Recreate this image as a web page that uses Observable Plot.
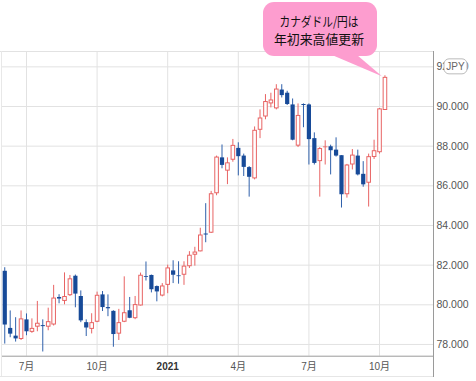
<!DOCTYPE html>
<html><head><meta charset="utf-8">
<script src="https://cdn.jsdelivr.net/npm/d3@7"></script>
<script src="https://cdn.jsdelivr.net/npm/@observablehq/plot@0.6"></script>
<style>
html,body{margin:0;padding:0;background:#fff;}
#chart{position:relative;width:476px;height:381px;overflow:hidden;}
svg{display:block}
</style></head><body><div id="chart"></div>
<script>
// Weekly CAD/JPY candles (week starting Monday)
const weeks = [
"2020-06-08","2020-06-15","2020-06-22","2020-06-29","2020-07-06","2020-07-13","2020-07-20","2020-07-27",
"2020-08-03","2020-08-10","2020-08-17","2020-08-24","2020-08-31","2020-09-07","2020-09-14","2020-09-21",
"2020-09-28","2020-10-05","2020-10-12","2020-10-19","2020-10-26","2020-11-02","2020-11-09","2020-11-16",
"2020-11-23","2020-11-30","2020-12-07","2020-12-14","2020-12-21","2020-12-28","2021-01-04","2021-01-11",
"2021-01-18","2021-01-25","2021-02-01","2021-02-08","2021-02-15","2021-02-22","2021-03-01","2021-03-08",
"2021-03-15","2021-03-22","2021-03-29","2021-04-05","2021-04-12","2021-04-19","2021-04-26","2021-05-03",
"2021-05-10","2021-05-17","2021-05-24","2021-05-31","2021-06-07","2021-06-14","2021-06-21","2021-06-28",
"2021-07-05","2021-07-12","2021-07-19","2021-07-26","2021-08-02","2021-08-09","2021-08-16","2021-08-23",
"2021-08-30","2021-09-06","2021-09-13","2021-09-20","2021-09-27","2021-10-04","2021-10-11"];
const opens = [
81.69,78.81,78.42,78.25,79.24,78.61,78.87,78.95,78.87,78.98,80.37,80.17,80.46,81.44,80.42,79.10,
78.76,79.12,80.50,79.86,79.67,78.52,79.12,79.70,79.30,79.94,81.42,81.48,80.92,80.44,80.98,81.71,
81.46,81.49,81.92,82.50,82.67,83.57,83.61,85.60,87.41,86.74,87.29,87.89,87.50,86.92,86.35,88.80,
89.47,90.13,89.88,90.83,90.67,90.08,88.00,90.10,90.08,88.38,87.22,87.92,87.97,87.80,87.52,85.55,
87.05,87.50,86.58,86.13,87.43,87.67,89.80];
const highs = [
81.87,79.69,79.35,79.69,79.54,79.29,80.17,79.24,79.83,80.98,80.51,81.61,81.48,81.50,80.70,79.24,
79.55,80.64,80.67,80.50,79.70,79.77,81.41,80.37,80.42,81.60,82.16,81.50,80.95,81.07,82.00,82.22,
82.17,82.17,82.68,82.90,83.86,85.10,85.72,87.50,88.06,87.41,88.34,88.17,87.60,86.97,88.97,89.83,
90.60,90.67,91.10,91.10,90.77,90.38,90.13,90.13,90.13,88.67,87.93,88.27,88.05,88.42,87.52,87.08,
87.83,87.80,87.22,87.60,88.30,89.90,91.55];
const lows = [
78.02,78.34,78.12,78.20,78.44,78.56,78.64,77.62,78.69,78.93,80.05,80.00,80.42,79.85,79.10,78.40,
78.53,79.10,79.66,79.40,77.86,78.20,79.10,79.30,79.25,79.94,81.20,80.60,80.15,80.40,80.56,81.07,
81.04,80.98,81.83,81.95,82.67,83.13,83.60,85.50,86.86,86.06,87.19,86.50,86.47,85.43,86.30,88.38,
89.33,89.93,89.83,90.43,90.05,88.27,87.93,88.93,87.05,87.05,85.43,87.05,86.55,87.45,84.88,85.38,
86.80,86.50,85.93,84.93,87.33,87.60,89.80];
const closes = [
78.98,78.52,78.28,79.29,78.64,78.81,79.07,78.90,79.15,80.34,80.29,80.42,81.31,80.54,79.19,78.83,
79.10,80.48,79.86,79.80,78.50,79.10,79.60,79.32,80.01,81.49,81.38,80.76,80.65,80.95,81.86,81.49,
81.42,81.95,82.50,82.66,83.52,83.52,85.60,87.45,87.03,87.16,88.04,87.47,86.93,86.43,88.80,89.42,
90.25,90.33,90.88,90.55,90.10,88.30,89.55,90.05,88.33,87.13,87.88,87.96,87.77,87.50,85.55,87.05,
87.55,86.55,86.05,87.47,87.77,89.88,91.47];

const tickDates = ["2020-07-06","2020-10-05","2021-01-04","2021-04-05","2021-07-05","2021-10-04"];
const tickLabels = ["7月","10月","2021","4月","7月","10月"];
const yTicks = [78,80,82,84,86,88,90,92];
const currency = "JPY";
const calloutLines = ["カナダドル/円は","年初来高値更新"];

const data = weeks.map((w,i)=>({
  date:new Date(w+"T00:00Z"), open:opens[i], high:highs[i], low:lows[i], close:closes[i],
  up: closes[i] >= opens[i],
  top: Math.max(opens[i],closes[i]), bot: Math.min(opens[i],closes[i])
}));
const upData = data.filter(d=>d.up), downData = data.filter(d=>!d.up);
const UP="#e86464", DOWN="#174a98", DOWNWICK="#2f60ab";
const ticks = tickDates.map(d=>new Date(d+"T00:00Z"));
const labelOf = new Map(ticks.map((d,i)=>[+d,tickLabels[i]]));
const yDom = [77.408, 92.774];
const xDom = [new Date("2020-06-05T02:00Z"), new Date("2021-12-12T14:00Z")];

const chart = Plot.plot({
  width:476, height:381, marginLeft:2, marginRight:43, marginTop:51, marginBottom:25.3,
  style:{fontFamily:"'Liberation Sans', Arial, 'Noto Sans CJK JP', sans-serif", fontSize:"10.5px", color:"#555", background:"#fff", overflow:"visible"},
  x:{type:"utc", domain:xDom},
  y:{domain:yDom},
  marks:[
    Plot.ruleY(yTicks,{stroke:"#e2e2e2"}),
    Plot.ruleX(ticks,{stroke:"#e2e2e2"}),
    Plot.ruleY([yDom[0]],{stroke:"#9a9a9a"}),
    Plot.ruleX(downData,{x:"date", y1:"low", y2:"high", stroke:DOWNWICK, strokeWidth:1}),
    Plot.ruleX(upData,{x:"date", y1:"low", y2:"high", stroke:UP, strokeWidth:1}),
    Plot.ruleX(downData,{x:"date", y1:"top", y2:"bot", stroke:DOWN, strokeWidth:4.2}),
    Plot.ruleX(upData,{x:"date", y1:"top", y2:"bot", stroke:UP, strokeWidth:4.6}),
    Plot.ruleX(upData.filter(d=>d.top-d.bot>0.14),{x:"date", y1:"top", y2:"bot", stroke:"#fff", strokeWidth:2.6, insetTop:1, insetBottom:1}),
    Plot.axisY(yTicks,{anchor:"right", tickSize:0, tickPadding:3, tickFormat:d3.format(".3f"), fill:"#555"}),
    Plot.axisX(ticks,{anchor:"bottom", tickSize:0, tickPadding:7, fontSize:10, fill:"#555", tickFormat:d=>labelOf.get(+d)})
  ]
});
document.getElementById("chart").appendChild(chart);

const svg = d3.select(chart);
const sx = chart.scale("x"), sy = chart.scale("y");
const L = 2, R = 433, T = 51, B = 355.7;

// frame lines
const frame = svg.append("g").attr("fill","none");
frame.append("line").attr("x1",0).attr("x2",R).attr("y1",T+0.5).attr("y2",T+0.5).attr("stroke","#e2e2e2");
frame.append("line").attr("x1",1.5).attr("x2",1.5).attr("y1",T).attr("y2",376).attr("stroke","#e8e8e8");
frame.append("line").attr("x1",0).attr("x2",R).attr("y1",376.5).attr("y2",376.5).attr("stroke","#e6e6e6");
frame.append("line").attr("x1",R+0.5).attr("x2",R+0.5).attr("y1",T).attr("y2",377).attr("stroke","#9a9a9a");

// bold year label
svg.selectAll("text").filter(function(){return this.textContent==="2021";})
  .attr("font-weight","bold").attr("fill","#333");

// currency badge over top tick label
const by = sy.apply(92);
const badge = svg.append("g");
badge.append("rect").attr("x",444).attr("y",by-7.5).attr("width",23).attr("height",15).attr("rx",5)
  .attr("fill","#fff").attr("stroke","#bbb");
badge.append("text").attr("x",455.5).attr("y",by).attr("dy","0.35em").attr("text-anchor","middle")
  .attr("fill","#666").attr("font-size",10).attr("font-family","'Liberation Sans', Arial, sans-serif").text(currency);

// callout
const last = data[data.length-1];
const tipX = sx.apply(last.date) - 2.5, tipY = sy.apply(last.high) + 1;
const PINK = "#fd9dcf";
const call = svg.append("g");
call.append("path").attr("fill",PINK)
  .attr("d",`M332,55 L357,55 L${tipX},${tipY} Z`);
call.append("rect").attr("x",263).attr("y",2).attr("width",114).attr("height",54).attr("rx",11).attr("fill",PINK);
const tl = call.append("g").attr("font-family","'Noto Sans CJK JP', sans-serif").attr("font-size",13)
  .attr("fill","#111").attr("text-anchor","middle");
tl.append("text").attr("x",319).attr("y",21.5).attr("dy","0.36em").attr("textLength",79).attr("lengthAdjust","spacingAndGlyphs").text(calloutLines[0]);
tl.append("text").attr("x",319).attr("y",39.5).attr("dy","0.36em").attr("textLength",90).attr("lengthAdjust","spacingAndGlyphs").text(calloutLines[1]);
</script>
</body></html>
